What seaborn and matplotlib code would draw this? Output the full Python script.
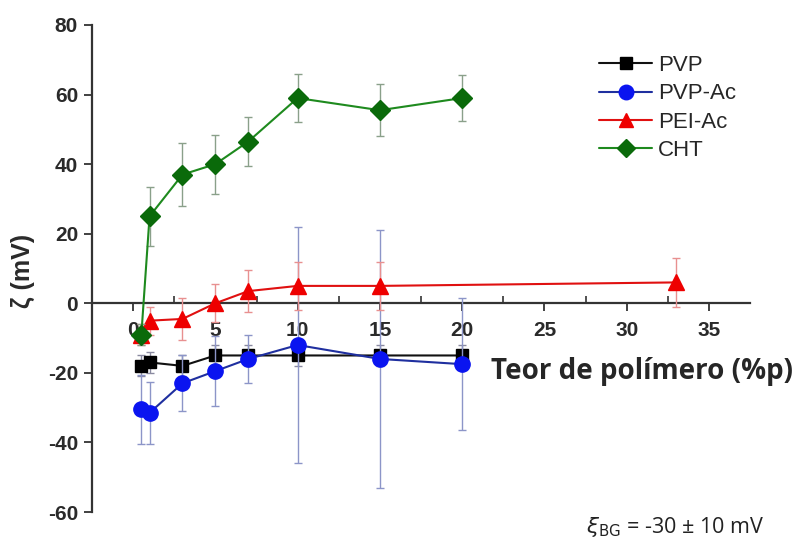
import numpy as np
import pandas as pd
import matplotlib
matplotlib.use("Agg")
import matplotlib.pyplot as plt
import seaborn as sns
from matplotlib.lines import Line2D

# ---- data ----
x_pvp = [0.5, 1, 3, 5, 7, 10, 15, 20]
y_pvp = [-18, -17, -18, -15, -15, -15, -15, -15]
e_pvp = [3, 3, 3, 3, 3, 3, 3, 3]

x_pvpac = [0.5, 1, 3, 5, 7, 10, 15, 20]
y_pvpac = [-30.5, -31.5, -23, -19.5, -16, -12, -16, -17.5]
e_pvpac = [10, 9, 8, 10, 7, 34, 37, 19]

x_peiac = [0.5, 1, 3, 5, 7, 10, 15, 33]
y_peiac = [-9, -5, -4.5, 0, 3.5, 5, 5, 6]
e_peiac = [3, 4, 6, 5.5, 6, 7, 7, 7]

x_cht = [0.5, 1, 3, 5, 7, 10, 15, 20]
y_cht = [-9, 25, 37, 40, 46.5, 59, 55.5, 59]
e_cht = [3, 8.5, 9, 8.5, 7, 7, 7.5, 6.5]

names = ["PVP", "PVP-Ac", "PEI-Ac", "CHT"]
xs = [x_pvp, x_pvpac, x_peiac, x_cht]
ys = [y_pvp, y_pvpac, y_peiac, y_cht]
es = [e_pvp, e_pvpac, e_peiac, e_cht]

x_ticks = [0, 5, 10, 15, 20, 25, 30, 35]
y_ticks = [80, 60, 40, 20, 0, -20, -40, -60]

# ---- styles ----
line_colors = {"PVP": "#111111", "PVP-Ac": "#1f2f9f", "PEI-Ac": "#e01010", "CHT": "#1e8a1e"}
marker_colors = {"PVP": "#000000", "PVP-Ac": "#0a14f0", "PEI-Ac": "#ee0000", "CHT": "#0a6a0a"}
err_colors = {"PVP": "#8a8aa0", "PVP-Ac": "#8c95c8", "PEI-Ac": "#e89090", "CHT": "#8aa08a"}
markers = {"PVP": "s", "PVP-Ac": "o", "PEI-Ac": "^", "CHT": "D"}
msizes = {"PVP": 9, "PVP-Ac": 11, "PEI-Ac": 11, "CHT": 10}

sns.set_style("ticks")
plt.rcParams["font.family"] = ["Liberation Sans", "DejaVu Sans"]

fig = plt.figure(figsize=(7.98, 5.41), dpi=100)
ax = fig.add_axes([92 / 798, 1 - 512 / 541, (750 - 92) / 798, (512 - 25) / 541])

frames = []
for n, x, y, e in zip(names, xs, ys, es):
    frames.append(pd.DataFrame({"x": x, "y": y, "err": e, "series": n}))
df = pd.concat(frames, ignore_index=True)

handles = []
for i, n in enumerate(names):
    d = df[df.series == n]
    ax.errorbar(d.x, d.y, yerr=d.err, fmt="none", ecolor=err_colors[n],
                elinewidth=1.0, capsize=3, capthick=1.0, zorder=2 + i)
    sns.lineplot(data=d, x="x", y="y", ax=ax, color=line_colors[n],
                 marker=markers[n], markersize=msizes[n],
                 markerfacecolor=marker_colors[n], markeredgecolor=marker_colors[n],
                 markeredgewidth=1, linewidth=1.5, zorder=3 + i, legend=False,
                 errorbar=None, sort=False)
    handles.append(Line2D([], [], color=line_colors[n], marker=markers[n],
                          markersize=msizes[n] * 0.95, markerfacecolor=marker_colors[n],
                          markeredgecolor=marker_colors[n], linewidth=1.5, label=n))

ax.set_xlim(-2.5, 37.5)
ax.set_ylim(-60, 80)
ax.spines["bottom"].set_position(("data", 0))
ax.spines["top"].set_visible(False)
ax.spines["right"].set_visible(False)
for s in ["left", "bottom"]:
    ax.spines[s].set_linewidth(1.6)
    ax.spines[s].set_color("#333333")

ax.set_xticks(x_ticks)
ax.set_xticklabels([str(t) for t in x_ticks], fontweight="bold")
ax.set_xticks([2.5, 7.5, 12.5, 17.5, 22.5, 27.5, 32.5], minor=True)
ax.set_yticks(y_ticks)
ax.set_yticklabels([str(t) for t in y_ticks], fontweight="bold")
ax.tick_params(axis="x", which="major", direction="out", length=6, width=1.3,
               labelsize=15, pad=7, colors="#333333", labelcolor="#2a2a2a")
ax.tick_params(axis="x", which="minor", direction="in", length=5, width=1.2, colors="#333333")
ax.tick_params(axis="y", which="major", direction="out", length=6, width=1.3,
               labelsize=15, pad=4, colors="#333333", labelcolor="#2a2a2a")

ax.set_xlabel("Teor de polímero (%p)", fontsize=20, fontweight="bold",
              family=["Open Sans", "DejaVu Sans"], ha="left", va="center")
ax.xaxis.set_label_coords((491 - 92) / 658, (512 - 371) / 487)
ax.set_ylabel("")
fig.text(23 / 798, 1 - 271 / 541, "ζ (mV)", rotation=90, fontsize=18,
         fontweight="bold", ha="center", va="center", color="#2a2a2a")

leg = ax.legend(handles=handles, loc="upper left", bbox_to_anchor=(579 / 798, 1 - 35 / 541),
                bbox_transform=fig.transFigure, frameon=False, fontsize=16,
                handlelength=2.4, handletextpad=0.25, labelspacing=0.33)

fig.text(586 / 798, 1 - 527 / 541, r"$\xi_{\mathrm{BG}}$ = -30 ± 10 mV", fontsize=15.5,
         family=["Open Sans", "DejaVu Sans"], ha="left", va="center", color="#222222")

fig.savefig("out.png", dpi=100)
